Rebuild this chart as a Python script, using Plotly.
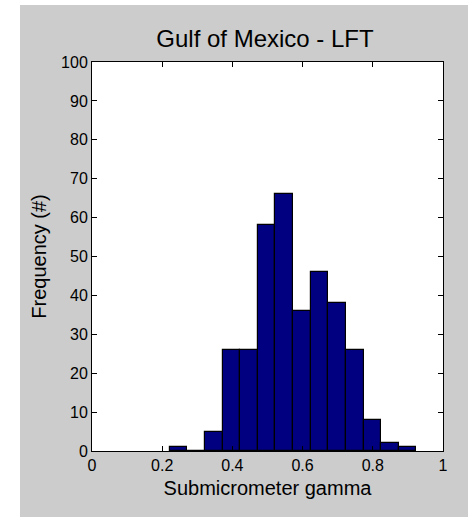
import plotly.graph_objects as go

# Data
bin_lower_edge = 0.2215
bin_width = 0.0502
counts = [1, 0, 5, 26, 26, 58, 66, 36, 46, 38, 26, 8, 2, 1]
x_ticks = [0, 0.2, 0.4, 0.6, 0.8, 1]
x_tick_labels = ["0", "0.2", "0.4", "0.6", "0.8", "1"]
y_ticks = list(range(0, 101, 10))

centers = [bin_lower_edge + bin_width * (i + 0.5) for i in range(len(counts))]

W, H = 468, 517
ml, mr, mt, mb = 92, 25, 62, 66
pw, ph = W - ml - mr, H - mt - mb

def px_x(p):
    return (p - ml) / pw

def px_y(p):
    return 1 - (p - mt) / ph

font = "Liberation Sans, Arial, sans-serif"

fig = go.Figure()
fig.add_trace(go.Bar(
    x=centers, y=counts, width=[bin_width] * len(counts),
    marker=dict(color="#000080", line=dict(color="black", width=1.2)),
))

shapes = [
    # white margin strips (left, top)
    dict(type="rect", xref="paper", yref="paper", x0=px_x(0), x1=px_x(20), y0=px_y(H), y1=px_y(0),
         fillcolor="white", line=dict(width=0), layer="below"),
    dict(type="rect", xref="paper", yref="paper", x0=px_x(0), x1=px_x(W), y0=px_y(5), y1=px_y(0),
         fillcolor="white", line=dict(width=0), layer="below"),
]

fig.update_layout(
    width=W, height=H,
    margin=dict(l=ml, r=mr, t=mt, b=mb, pad=0),
    paper_bgcolor="#cccccc", plot_bgcolor="white",
    showlegend=False, bargap=0,
    shapes=shapes,
    title=dict(text="Gulf of Mexico - LFT", xref="container", x=265 / W, xanchor="center",
               yref="container", y=1 - 39 / H, yanchor="middle",
               font=dict(family=font, size=24, color="black")),
    font=dict(family=font, color="black"),
)
fig.update_xaxes(
    range=[0, 1], tickvals=x_ticks, ticktext=x_tick_labels,
    ticks="inside", ticklen=5, tickcolor="black",
    showline=True, linecolor="black", linewidth=1, mirror="ticks",
    showgrid=False, zeroline=False,
    tickfont=dict(family=font, size=16, color="black"),
    title=dict(text="Submicrometer gamma", font=dict(family=font, size=20, color="black"), standoff=7),
)
fig.update_yaxes(
    range=[0, 100], tickvals=y_ticks,
    ticks="inside", ticklen=5, tickcolor="black",
    showline=True, linecolor="black", linewidth=1, mirror="ticks",
    showgrid=False, zeroline=False,
    tickfont=dict(family=font, size=16, color="black"),
    title=dict(text="Frequency (#)", font=dict(family=font, size=20, color="black"), standoff=9),
)

fig.write_html("out.html")
